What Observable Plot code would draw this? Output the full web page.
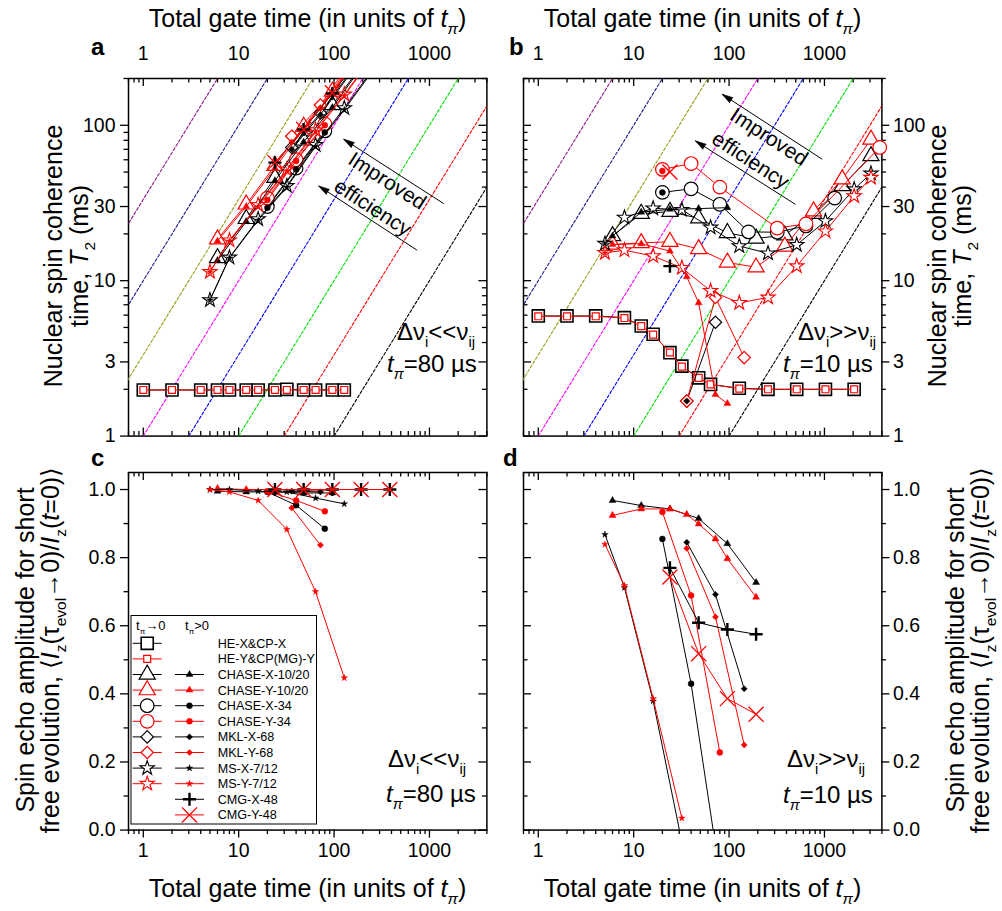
<!DOCTYPE html>
<html>
<head>
<meta charset="utf-8">
<title>Nuclear spin coherence under dynamical decoupling</title>
<script src="https://cdn.jsdelivr.net/npm/d3@7"></script>
<script src="https://cdn.jsdelivr.net/npm/@observablehq/plot@0.6"></script>
<style>
  html, body { margin: 0; padding: 0; background: #fff; }
  #figure { position: relative; width: 1002px; height: 911px; overflow: hidden; background: #fff;
            font-family: "Liberation Sans", Arial, Helvetica, sans-serif; }
  #overlay { position: absolute; left: 0; top: 0; pointer-events: none; }
</style>
</head>
<body>
<div id="figure"></div>
<script>
// ---------------- data: total gate time N (units of tπ) and measured values ----------------

// Panel a — T2 (ms), Δνi << νij, tπ = 80 µs
const a_HE_N = [1, 2, 4, 6, 8, 12, 16, 24, 32, 48, 64, 96, 128];
const a_HEX = [1.98, 1.98, 1.98, 1.98, 1.98, 1.98, 1.98, 1.98, 2.0, 1.98, 1.98, 1.98, 1.98];
const a_HEY = [1.98, 1.98, 1.98, 1.98, 1.98, 1.98, 1.98, 1.98, 1.98, 1.98, 1.98, 1.98, 1.98];
const a_CH1020_N = [6, 12, 24, 48, 96, 192];
const a_CHX1020_open = [14, 25, 46, 80, 135, 240];
const a_CHY1020_open = [18.5, 31, 55, 98, 165, 290];
const a_CHX1020_fill = [13.5, 24, 44, 78, 130, 235];
const a_CHY1020_fill = [18, 30, 53, 95, 160, 285];
const a_CH34_N = [20, 40, 80];
const a_CHX34_open = [30, 53, 92];
const a_CHY34_open = [34, 60, 102];
const a_CHX34_fill = [29.5, 52, 90];
const a_CHY34_fill = [33, 59, 100];
const a_MKL_N = [36, 72, 144];
const a_MKLX_open = [72, 120, 215];
const a_MKLY_open = [85, 135, 250];
const a_MKLX_fill = [70, 117, 210];
const a_MKLY_fill = [78, 130, 240];
const a_MS_N = [5, 8, 16, 32, 64, 128, 256];
const a_MSX_open = [7.5, 14.1, 24.9, 40.7, 74.8, 129, 230];
const a_MSY_open = [11.4, 18.2, 30.7, 52, 93, 158, 280];
const a_MSX_fill = [7.5, 14, 24.5, 40, 73, 126, 225];
const a_MSY_fill = [11.4, 18, 30, 51, 91, 155, 275];
const a_CMG_N = [24, 48, 96, 192];
const a_CMGX = [57.5, 94, 160, 280];
const a_CMGY = [57.5, 94, 162, 285];

// Panel b — T2 (ms), Δνi >> νij, tπ = 10 µs
const b_HE_N = [1, 2, 4, 8, 12, 16, 24, 32, 48, 64, 128, 256, 512, 1024, 2048];
const b_HEX = [5.93, 5.93, 5.93, 5.78, 5.11, 4.52, 3.44, 2.82, 2.37, 2.15, 2.03, 2.0, 2.0, 2.0, 2.0];
const b_HEY = [5.9, 5.9, 5.9, 5.75, 5.1, 4.5, 3.45, 2.8, 2.37, 2.15, 2.02, 2.0, 2.0, 2.0, 2.0];
const b_CH1020_N = [6, 12, 24, 48, 96, 192, 384, 768, 1536, 3072];
const b_CHX1020_open = [19.4, 27, 27.8, 25.2, 20.3, 18.7, 19.6, 27, 40.7, 63.5];
const b_CHY1020_open = [17.1, 17.5, 17.8, 16, 13.1, 12.2, 16.6, 28, 45, 81];
const b_CHX1020f_N = [6, 12, 24, 48, 96];
const b_CHX1020_fill = [19.4, 27.6, 28.8, 29.1, 29.5];
const b_CHY1020f_N = [6, 12, 24, 36, 48, 72, 96];
const b_CHY1020_fill = [17.1, 17.3, 15.5, 10.6, 7.2, 1.85, 1.62];
const b_CHX34_N = [20, 40, 80, 160, 320, 640, 1280];
const b_CHX34_open = [37, 39, 31, 20.6, 20.5, 22.5, 34];
const b_CHY34_N = [20, 40, 80, 320, 640, 3800];
const b_CHY34_open = [52, 56.7, 40, 21.8, 23.2, 72];
const b_CH34f_N = [20];
const b_CHX34_fill = [37];
const b_CHY34_fill = [50.8];
const b_MKLX_N = [36, 72];
const b_MKLX_open = [1.68, 5.4];
const b_MKLY_N = [36, 72, 144];
const b_MKLY_open = [1.68, 7.8, 3.2];
const b_MKLf_N = [36];
const b_MKLX_fill = [1.68];
const b_MKLY_fill = [1.68];
const b_MS_N = [5, 8, 16, 32, 64, 128, 256, 512, 1024, 2048, 3072];
const b_MSX_open = [17.3, 25.5, 29.2, 28.6, 22, 16.7, 15, 17, 24.2, 38.8, 49];
const b_MSY_open = [15.1, 15.7, 14.4, 12.1, 8.6, 7.2, 7.8, 12.4, 20.8, 35, 46];
const b_MSf_N = [5];
const b_MSX_fill = [17.3];
const b_MSY_fill = [15.1];
const b_CMG_N = [24];
const b_CMGX = [12.4];
const b_CMGY = [50];

// Panel c — echo amplitude, Δνi << νij, tπ = 80 µs
const c_CH1020_N = [6, 12, 24, 48, 96];
const c_CHX1020 = [0.995, 0.993, 0.993, 0.99, 0.99];
const c_CHY1020 = [1.003, 1.0, 1.0, 0.998, 0.998];
const c_CH34_N = [20, 40, 80];
const c_CHX34 = [0.993, 0.954, 0.885];
const c_CHY34 = [0.995, 0.968, 0.936];
const c_MKL_N = [36, 72];
const c_MKLX = [0.995, 0.993];
const c_MKLY = [0.946, 0.837];
const c_MS_N = [5, 8, 16, 32, 64, 128];
const c_MSX = [1.0, 1.0, 0.995, 0.993, 0.975, 0.958];
const c_MSY = [1.0, 0.993, 0.968, 0.883, 0.7, 0.447];
const c_CMG_N = [24, 48, 96, 192, 384];
const c_CMGX = [1.0, 1.0, 1.0, 1.0, 1.0];
const c_CMGY = [1.0, 1.0, 1.0, 1.0, 1.0];

// Panel d — echo amplitude, Δνi >> νij, tπ = 10 µs
const d_CHX1020_N = [6, 12, 24, 48, 96, 192];
const d_CHX1020 = [0.968, 0.953, 0.943, 0.915, 0.841, 0.727];
const d_CHY1020_N = [6, 12, 24, 36, 48, 72, 96, 192];
const d_CHY1020 = [0.924, 0.943, 0.943, 0.927, 0.899, 0.855, 0.797, 0.684];
const d_CH34_N = [20, 40, 80];
const d_CHX34 = [0.855, 0.43, -0.13];
const d_CHY34 = [0.934, 0.689, 0.228];
const d_MKL_N = [36, 72, 144];
const d_MKLX = [0.845, 0.692, 0.415];
const d_MKLY = [0.827, 0.626, 0.25];
const d_MS_N = [5, 8, 16, 32];
const d_MSX = [0.868, 0.712, 0.379, -0.035];
const d_MSY = [0.839, 0.718, 0.386, 0.035];
const d_CMG_N = [24, 48, 96, 192];
const d_CMGX = [0.77, 0.609, 0.589, 0.575];
const d_CMGY = [0.743, 0.518, 0.386, 0.34];

// Constant-efficiency guide lines: gate time N at which T2 = 1 ms
const effN = [100, 30, 10, 3, 1, 0.3, 0.1, 0.03];
const effColors = ["#000000", "#ff0000", "#00e000", "#0000ff", "#ff00ff", "#9a9a1a", "#1a1a8c", "#8c1a8c"];

// "Improved efficiency" arrows (tail -> head) and their captions
const a_arrows = [{n1: 1413, t1: 31.3, n2: 126, t2: 81.4}, {n1: 743, t1: 15.7, n2: 68.9, t2: 40.7}];
const b_arrows = [{n1: 946, t1: 60.5, n2: 84.5, t2: 158.5}, {n1: 496, t1: 31, n2: 44.3, t2: 79.4}];
const a_arrowText = [{n: 360, t: 43.8, label: "Improved"}, {n: 254, t: 29.5, label: "efficiency"}];
const b_arrowText = [{n: 262, t: 84, label: "Improved"}, {n: 168, t: 59.5, label: "efficiency"}];

// Tick labels
const nTickLabels = [1, 10, 100, 1000];
const t2TickLabels = [1, 3, 10, 30, 100];
const ampTickLabels = [0, 0.2, 0.4, 0.6, 0.8, 1.0];
const ampMinorTicks = [0.1, 0.3, 0.5, 0.7, 0.9];

// ---------------- layout and styles ----------------
const FONT = '"Liberation Sans", Arial, Helvetica, sans-serif';
const FW = 358.4, FH = 357.6, PAD = 60;
const FRAME_POS = {a: [128.3, 77.6], b: [523.3, 77.6], c: [128.3, 471.7], d: [523.3, 471.7]};
const N_DOMAIN = [0.7, 4000];
const T2_DOMAIN = [1, 200];
const AMP_DOMAIN = [0, 1.05];
const RED = "#ff0000", BLK = "#000000";

const nMinorTicks = [];
for (let e = -1; e <= 3; e++) for (let m = 2; m <= 9; m++) {
  const v = +(m * 10 ** e).toPrecision(3);
  if (v >= N_DOMAIN[0] && v <= N_DOMAIN[1]) nMinorTicks.push(v);
}
const t2MinorTicks = [];
for (let e = 0; e <= 2; e++) for (let m = 2; m <= 9; m++) {
  const v = m * 10 ** e;
  if (m !== 3 && v <= T2_DOMAIN[1]) t2MinorTicks.push(v);
}

// Marker styles: tπ -> 0 (open) and tπ > 0 (filled)
const OPEN = {
  "HE-X&CP-X":     {symbol: "square",   r: 6.8, color: BLK, sw: 1.6},
  "HE-Y&CP(MG)-Y": {symbol: "square",   r: 3.9, color: RED, sw: 1.2},
  "CHASE-X-10/20": {symbol: "triangle", r: 6.0, color: BLK, sw: 1.2},
  "CHASE-Y-10/20": {symbol: "triangle", r: 6.0, color: RED, sw: 1.2},
  "CHASE-X-34":    {symbol: "circle",   r: 6.8, color: BLK, sw: 1.2},
  "CHASE-Y-34":    {symbol: "circle",   r: 6.8, color: RED, sw: 1.2},
  "MKL-X-68":      {symbol: "diamond2", r: 5.6, color: BLK, sw: 1.2},
  "MKL-Y-68":      {symbol: "diamond2", r: 5.6, color: RED, sw: 1.2},
  "MS-X-7/12":     {symbol: "star",     r: 4.5, color: BLK, sw: 1.1},
  "MS-Y-7/12":     {symbol: "star",     r: 4.5, color: RED, sw: 1.1}
};
const FILLED = {
  "CHASE-X-10/20": {symbol: "triangle", r: 2.6, color: BLK},
  "CHASE-Y-10/20": {symbol: "triangle", r: 2.6, color: RED},
  "CHASE-X-34":    {symbol: "circle",   r: 3.0, color: BLK},
  "CHASE-Y-34":    {symbol: "circle",   r: 3.0, color: RED},
  "MKL-X-68":      {symbol: "diamond2", r: 2.8, color: BLK},
  "MKL-Y-68":      {symbol: "diamond2", r: 2.8, color: RED},
  "MS-X-7/12":     {symbol: "star",     r: 2.1, color: BLK},
  "MS-Y-7/12":     {symbol: "star",     r: 2.1, color: RED},
  "CMG-X-48":      {symbol: "plus",     r: 4.3, color: BLK, sw: 2.4, stroked: true},
  "CMG-Y-48":      {symbol: "times",    r: 6.9, color: RED, sw: 1.3, stroked: true}
};

// Series drawn in each panel: [name, kind, N, values]
const panelA = [
  ["HE-X&CP-X", "open", a_HE_N, a_HEX], ["HE-Y&CP(MG)-Y", "open", a_HE_N, a_HEY],
  ["CHASE-X-10/20", "open", a_CH1020_N, a_CHX1020_open], ["CHASE-Y-10/20", "open", a_CH1020_N, a_CHY1020_open],
  ["CHASE-X-34", "open", a_CH34_N, a_CHX34_open], ["CHASE-Y-34", "open", a_CH34_N, a_CHY34_open],
  ["MKL-X-68", "open", a_MKL_N, a_MKLX_open], ["MKL-Y-68", "open", a_MKL_N, a_MKLY_open],
  ["MS-X-7/12", "open", a_MS_N, a_MSX_open], ["MS-Y-7/12", "open", a_MS_N, a_MSY_open],
  ["CHASE-X-10/20", "fill", a_CH1020_N, a_CHX1020_fill], ["CHASE-Y-10/20", "fill", a_CH1020_N, a_CHY1020_fill],
  ["CHASE-X-34", "fill", a_CH34_N, a_CHX34_fill], ["CHASE-Y-34", "fill", a_CH34_N, a_CHY34_fill],
  ["MKL-X-68", "fill", a_MKL_N, a_MKLX_fill], ["MKL-Y-68", "fill", a_MKL_N, a_MKLY_fill],
  ["MS-X-7/12", "fill", a_MS_N, a_MSX_fill], ["MS-Y-7/12", "fill", a_MS_N, a_MSY_fill],
  ["CMG-X-48", "fill", a_CMG_N, a_CMGX], ["CMG-Y-48", "fill", a_CMG_N, a_CMGY]
];
const panelB = [
  ["HE-X&CP-X", "open", b_HE_N, b_HEX], ["HE-Y&CP(MG)-Y", "open", b_HE_N, b_HEY],
  ["CHASE-X-10/20", "open", b_CH1020_N, b_CHX1020_open], ["CHASE-Y-10/20", "open", b_CH1020_N, b_CHY1020_open],
  ["CHASE-X-34", "open", b_CHX34_N, b_CHX34_open], ["CHASE-Y-34", "open", b_CHY34_N, b_CHY34_open],
  ["MKL-X-68", "open", b_MKLX_N, b_MKLX_open], ["MKL-Y-68", "open", b_MKLY_N, b_MKLY_open],
  ["MS-X-7/12", "open", b_MS_N, b_MSX_open], ["MS-Y-7/12", "open", b_MS_N, b_MSY_open],
  ["CHASE-X-10/20", "fill", b_CHX1020f_N, b_CHX1020_fill], ["CHASE-Y-10/20", "fill", b_CHY1020f_N, b_CHY1020_fill],
  ["CHASE-X-34", "fill", b_CH34f_N, b_CHX34_fill], ["CHASE-Y-34", "fill", b_CH34f_N, b_CHY34_fill],
  ["MKL-Y-68", "fill", b_MKLf_N, b_MKLY_fill], ["MKL-X-68", "fill", b_MKLf_N, b_MKLX_fill],
  ["MS-X-7/12", "fill", b_MSf_N, b_MSX_fill], ["MS-Y-7/12", "fill", b_MSf_N, b_MSY_fill],
  ["CMG-X-48", "fill", b_CMG_N, b_CMGX], ["CMG-Y-48", "fill", b_CMG_N, b_CMGY]
];
const panelC = [
  ["CHASE-X-10/20", "fill", c_CH1020_N, c_CHX1020], ["CHASE-Y-10/20", "fill", c_CH1020_N, c_CHY1020],
  ["CHASE-X-34", "fill", c_CH34_N, c_CHX34], ["CHASE-Y-34", "fill", c_CH34_N, c_CHY34],
  ["MKL-X-68", "fill", c_MKL_N, c_MKLX], ["MKL-Y-68", "fill", c_MKL_N, c_MKLY],
  ["MS-X-7/12", "fill", c_MS_N, c_MSX], ["MS-Y-7/12", "fill", c_MS_N, c_MSY],
  ["CMG-X-48", "fill", c_CMG_N, c_CMGX], ["CMG-Y-48", "fill", c_CMG_N, c_CMGY]
];
const panelD = [
  ["CHASE-X-10/20", "fill", d_CHX1020_N, d_CHX1020], ["CHASE-Y-10/20", "fill", d_CHY1020_N, d_CHY1020],
  ["CHASE-X-34", "fill", d_CH34_N, d_CHX34], ["CHASE-Y-34", "fill", d_CH34_N, d_CHY34],
  ["MKL-X-68", "fill", d_MKL_N, d_MKLX], ["MKL-Y-68", "fill", d_MKL_N, d_MKLY],
  ["MS-X-7/12", "fill", d_MS_N, d_MSX], ["MS-Y-7/12", "fill", d_MS_N, d_MSY],
  ["CMG-X-48", "fill", d_CMG_N, d_CMGX], ["CMG-Y-48", "fill", d_CMG_N, d_CMGY]
];

// ---------------- mark builders ----------------
function seriesMarks(list, dom) {
  const marks = [];
  for (const [name, kind, N, V] of list) {
    const st = (kind === "open" ? OPEN : FILLED)[name];
    const rows = N.map((n, i) => ({N: n, V: V[i]}));
    marks.push(Plot.line(rows, {x: "N", y: "V", stroke: st.color, strokeWidth: 1, clip: true}));
    const inside = rows.filter(d => d.V >= dom[0] && d.V <= dom[1]);
    let fill, stroke, sw;
    if (kind === "open") { fill = "#fff"; stroke = st.color; sw = st.sw; }
    else if (st.stroked) { fill = "none"; stroke = st.color; sw = st.sw; }
    else { fill = st.color; stroke = st.color; sw = 0.4; }
    marks.push(Plot.dot(inside, {x: "N", y: "V", symbol: st.symbol, r: st.r, fill, stroke, strokeWidth: sw}));
  }
  return marks;
}

function tickMarks(side, dir, values, len) {
  const o = {stroke: "#000", strokeWidth: 1.3};
  if (side === "top" || side === "bottom") {
    let insetTop, insetBottom;
    if (side === "top") [insetTop, insetBottom] = dir === "in" ? [0, FH - len] : [-len, FH];
    else [insetTop, insetBottom] = dir === "in" ? [FH - len, 0] : [FH, -len];
    return Plot.tickX(values, {x: d => d, insetTop, insetBottom, ...o});
  }
  let insetLeft, insetRight;
  if (side === "left") [insetLeft, insetRight] = dir === "in" ? [0, FW - len] : [-len, FW];
  else [insetLeft, insetRight] = dir === "in" ? [FW - len, 0] : [FW, -len];
  return Plot.tickY(values, {y: d => d, insetLeft, insetRight, ...o});
}

const MAJ = 8, MIN = 4.5, TICK_FS = 19.5;

function frameMarks(cfg) {
  const m = [Plot.frame({stroke: "#000", strokeWidth: 1.5})];
  for (const side of ["top", "bottom"]) {
    m.push(tickMarks(side, cfg.dirs[side], nTickLabels, MAJ));
    m.push(tickMarks(side, cfg.dirs[side], nMinorTicks, MIN));
  }
  for (const side of ["left", "right"]) {
    m.push(tickMarks(side, cfg.dirs[side], cfg.yMajor, MAJ));
    m.push(tickMarks(side, cfg.dirs[side], cfg.yMinor, MIN));
  }
  if (cfg.xLabels === "top")
    m.push(Plot.text(nTickLabels, {x: d => d, frameAnchor: "top", dy: -32, text: d => String(d), fontSize: TICK_FS}));
  if (cfg.xLabels === "bottom")
    m.push(Plot.text(nTickLabels, {x: d => d, frameAnchor: "bottom", dy: 27, text: d => String(d), fontSize: TICK_FS}));
  if (cfg.yLabels === "left")
    m.push(Plot.text(cfg.yMajor, {y: d => d, frameAnchor: "left", dx: -13, textAnchor: "end", text: cfg.fmt, fontSize: TICK_FS}));
  if (cfg.yLabels === "right")
    m.push(Plot.text(cfg.yMajor, {y: d => d, frameAnchor: "right", dx: 11, textAnchor: "start", text: cfg.fmt, fontSize: TICK_FS}));
  return m;
}

function efficiencyLines() {
  return effN.map((k, i) => Plot.line(
    [{N: k * T2_DOMAIN[0] * 0.5, V: T2_DOMAIN[0] * 0.5}, {N: k * T2_DOMAIN[1] * 2, V: T2_DOMAIN[1] * 2}],
    {x: "N", y: "V", stroke: effColors[i], strokeWidth: 1.1, strokeDasharray: "3,2", clip: true}));
}

// screen-space direction of the efficiency arrows (same pixel scales in a and b)
const decX = FW / Math.log10(N_DOMAIN[1] / N_DOMAIN[0]);
const decY = FH / Math.log10(T2_DOMAIN[1] / T2_DOMAIN[0]);
function arrowMarks(arrows, texts) {
  const a0 = arrows[0];
  const ang = Math.atan2(-decY * Math.log10(a0.t2 / a0.t1), decX * Math.log10(a0.n2 / a0.n1)) * 180 / Math.PI;
  return [
    Plot.link(arrows, {x1: "n1", y1: "t1", x2: "n2", y2: "t2", stroke: "#000", strokeWidth: 1}),
    Plot.vector(arrows, {x: "n2", y: "t2", length: 11, r: 3, rotate: ang + 90, anchor: "end",
                         shape: "spike", fill: "#000", stroke: "#000", strokeWidth: 0.6}),
    Plot.text(texts, {x: "n", y: "t", text: "label", rotate: ang + 180, fontSize: 21})
  ];
}

const fig = document.getElementById("figure");
function panel(id, cfg, marks) {
  const [fx, fy] = FRAME_POS[id];
  const svg = Plot.plot({
    width: FW + 2 * PAD, height: FH + 2 * PAD, margin: PAD,
    style: `position:absolute;left:${fx - PAD}px;top:${fy - PAD}px;background:transparent;overflow:visible;font-family:${FONT};color:#000;max-width:none;`,
    x: {type: "log", domain: N_DOMAIN, axis: null},
    y: {type: cfg.yType, domain: cfg.yDomain, axis: null},
    marks: [...frameMarks(cfg), ...marks]
  });
  fig.appendChild(svg);
}

const fmtT2 = d => String(d);
const fmtAmp = d => d.toFixed(1);

panel("a", {yType: "log", yDomain: T2_DOMAIN, yMajor: t2TickLabels, yMinor: t2MinorTicks, fmt: fmtT2,
            dirs: {top: "in", bottom: "in", left: "out", right: "in"}, xLabels: "top", yLabels: "left"},
      [...efficiencyLines(), ...seriesMarks(panelA, T2_DOMAIN), ...arrowMarks(a_arrows, a_arrowText)]);
panel("b", {yType: "log", yDomain: T2_DOMAIN, yMajor: t2TickLabels, yMinor: t2MinorTicks, fmt: fmtT2,
            dirs: {top: "in", bottom: "in", left: "in", right: "out"}, xLabels: "top", yLabels: "right"},
      [...efficiencyLines(), ...seriesMarks(panelB, T2_DOMAIN), ...arrowMarks(b_arrows, b_arrowText)]);
panel("c", {yType: "linear", yDomain: AMP_DOMAIN, yMajor: ampTickLabels, yMinor: ampMinorTicks, fmt: fmtAmp,
            dirs: {top: "in", bottom: "out", left: "out", right: "in"}, xLabels: "bottom", yLabels: "left"},
      seriesMarks(panelC, AMP_DOMAIN));
panel("d", {yType: "linear", yDomain: AMP_DOMAIN, yMajor: ampTickLabels, yMinor: ampMinorTicks, fmt: fmtAmp,
            dirs: {top: "in", bottom: "out", left: "in", right: "out"}, xLabels: "bottom", yLabels: "right"},
      seriesMarks(panelD, AMP_DOMAIN));

// ---------------- titles, annotations and legend ----------------
const ov = d3.select(fig).append("svg").attr("id", "overlay")
  .attr("width", 1002).attr("height", 911).style("font-family", FONT);

// rich text: parts are strings or [text, flags] where flags contain "i" (italic) / "s" (subscript)
function rich(x, y, parts, {size, anchor = "start", rotate = 0, weight = "normal"}) {
  const t = ov.append("text").attr("x", x).attr("y", y).attr("font-size", size)
    .attr("text-anchor", anchor).attr("font-weight", weight).attr("fill", "#000");
  if (rotate) t.attr("transform", `rotate(${rotate},${x},${y})`);
  let shift = 0;
  for (const p of parts) {
    const [str, f] = typeof p === "string" ? [p, ""] : p;
    const sub = f.includes("s");
    const target = sub ? size * 0.28 : 0;
    const ts = t.append("tspan").text(str);
    if (target !== shift) { ts.attr("dy", target - shift); shift = target; }
    if (sub) ts.attr("font-size", size * 0.62);
    if (f.includes("i")) ts.attr("font-style", "italic");
  }
  return t;
}

const TITLE_FS = 25;
const gateTitle = ["Total gate time (in units of ", ["t", "i"], ["π", "is"], ")"];
rich(307.5, 27, gateTitle, {size: TITLE_FS, anchor: "middle"});
rich(702.5, 27, gateTitle, {size: TITLE_FS, anchor: "middle"});
rich(307.5, 897, gateTitle, {size: TITLE_FS, anchor: "middle"});
rich(702.5, 897, gateTitle, {size: TITLE_FS, anchor: "middle"});

const t2Line1 = ["Nuclear spin coherence"];
const t2Line2 = ["time, ", ["T", "i"], ["2", "s"], " (ms)"];
rich(62, 256, t2Line1, {size: TITLE_FS, anchor: "middle", rotate: -90});
rich(88, 256, t2Line2, {size: TITLE_FS, anchor: "middle", rotate: -90});
rich(946, 256, t2Line1, {size: TITLE_FS, anchor: "middle", rotate: -90});
rich(971, 256, t2Line2, {size: TITLE_FS, anchor: "middle", rotate: -90});

const ampLine1 = ["Spin echo amplitude for short"];
const ampLine2 = ["free evolution, \u27E8", ["I", "i"], ["z", "s"], "(τ", ["evol", "s"], "\u21920)/",
                  ["I", "i"], ["z", "s"], "(", ["t", "i"], "=0)\u27E9"];
rich(34, 650, ampLine1, {size: TITLE_FS, anchor: "middle", rotate: -90});
rich(59, 650, ampLine2, {size: TITLE_FS, anchor: "middle", rotate: -90});
rich(964, 650, ampLine1, {size: TITLE_FS, anchor: "middle", rotate: -90});
rich(989, 650, ampLine2, {size: TITLE_FS, anchor: "middle", rotate: -90});

// panel letters sit in the corner left of each panel's axis labels
rich(91, 55, ["a"], {size: 24, weight: "bold"});
rich(509, 55, ["b"], {size: 24, weight: "bold"});
rich(91, 466, ["c"], {size: 24, weight: "bold"});
rich(503, 466, ["d"], {size: 24, weight: "bold"});

const ANN_FS = 24;
rich(397, 340, ["Δν", ["i", "s"], "<<ν", ["ij", "s"]], {size: ANN_FS});
rich(387, 372, [["t", "i"], ["π", "is"], "=80 µs"], {size: ANN_FS});
rich(798, 340, ["Δν", ["i", "s"], ">>ν", ["ij", "s"]], {size: ANN_FS});
rich(783, 372, [["t", "i"], ["π", "is"], "=10 µs"], {size: ANN_FS});
rich(388, 767, ["Δν", ["i", "s"], "<<ν", ["ij", "s"]], {size: ANN_FS});
rich(386, 802, [["t", "i"], ["π", "is"], "=80 µs"], {size: ANN_FS});
rich(787, 767, ["Δν", ["i", "s"], ">>ν", ["ij", "s"]], {size: ANN_FS});
rich(783, 803, [["t", "i"], ["π", "is"], "=10 µs"], {size: ANN_FS});

// legend inside panel c
const legendRows = [
  "HE-X&CP-X", "HE-Y&CP(MG)-Y", "CHASE-X-10/20", "CHASE-Y-10/20", "CHASE-X-34", "CHASE-Y-34",
  "MKL-X-68", "MKL-Y-68", "MS-X-7/12", "MS-Y-7/12", "CMG-X-48", "CMG-Y-48"
];
const SYMBOLS = {square: d3.symbolSquare, triangle: d3.symbolTriangle, circle: d3.symbolCircle,
                 diamond2: d3.symbolDiamond2, star: d3.symbolStar, plus: d3.symbolPlus, times: d3.symbolTimes};
const LG = {x: 131, y: 615.5, w: 185.5, h: 208.5, row0: 643.3, dy: 15.6,
            c1: [132.7, 161.7], c2: [175, 204], tx: 217.7, fs: 12.6};
ov.append("rect").attr("x", LG.x).attr("y", LG.y).attr("width", LG.w).attr("height", LG.h)
  .attr("fill", "#fff").attr("stroke", "#000").attr("stroke-width", 1);
rich(136, 630, ["t", ["π", "s"], "\u21920"], {size: 13});
rich(185, 630, ["t", ["π", "s"], ">0"], {size: 13});
function legendSample(cx0, cx1, cy, st, kind) {
  ov.append("line").attr("x1", cx0).attr("x2", cx1).attr("y1", cy).attr("y2", cy)
    .attr("stroke", st.color).attr("stroke-width", 1);
  const path = d3.symbol().type(SYMBOLS[st.symbol]).size(Math.PI * st.r * st.r)();
  const p = ov.append("path").attr("d", path).attr("transform", `translate(${(cx0 + cx1) / 2},${cy})`);
  if (kind === "open") p.attr("fill", "#fff").attr("stroke", st.color).attr("stroke-width", st.sw);
  else if (st.stroked) p.attr("fill", "none").attr("stroke", st.color).attr("stroke-width", st.sw);
  else p.attr("fill", st.color).attr("stroke", st.color).attr("stroke-width", 0.4);
}
legendRows.forEach((name, i) => {
  const cy = LG.row0 + i * LG.dy;
  if (OPEN[name]) legendSample(LG.c1[0], LG.c1[1], cy, OPEN[name], "open");
  if (FILLED[name]) legendSample(LG.c2[0], LG.c2[1], cy, FILLED[name], "fill");
  rich(LG.tx, cy + 4.4, [name], {size: LG.fs});
});
</script>
</body>
</html>
